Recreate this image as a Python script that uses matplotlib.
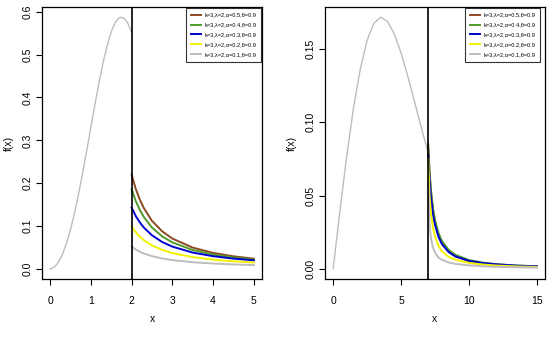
import matplotlib
matplotlib.use("Agg")
from matplotlib import pyplot as plt

plt.rcParams['font.family'] = ['Liberation Sans Narrow', 'Liberation Sans', 'DejaVu Sans']

labels = ['k=3,λ=2,α=0.5,θ=0.9', 'k=3,λ=2,α=0.4,θ=0.9', 'k=3,λ=2,α=0.3,θ=0.9',
          'k=3,λ=2,α=0.2,θ=0.9', 'k=3,λ=2,α=0.1,θ=0.9']
colors = ['#8b4a22', '#4f9a2a', '#0000d0', '#f2f200', '#bdbdbd']

# left panel: body (gray) and tails after x=2
body1_x = [0, 0.1, 0.2, 0.3, 0.4, 0.5, 0.6, 0.7, 0.8, 0.9, 1.0, 1.1, 1.2, 1.3, 1.4,
           1.5, 1.6, 1.7, 1.8, 1.9, 2.0]
body1_y = [0, 0.0038, 0.015, 0.0336, 0.0595, 0.0923, 0.1314, 0.176, 0.2251, 0.2773,
           0.3309, 0.3842, 0.435, 0.4814, 0.5214, 0.5535, 0.5753, 0.5864, 0.5861,
           0.5745, 0.5518]
tail1_x = [2.0, 2.1, 2.2, 2.3, 2.5, 2.75, 3.0, 3.5, 4.0, 4.5, 5.0]
tail1_a05 = [0.22, 0.187, 0.162, 0.142, 0.112, 0.0877, 0.0708, 0.0497, 0.0374, 0.0294, 0.0239]
tail1_a04 = [0.186, 0.1587, 0.1377, 0.121, 0.0964, 0.0758, 0.0618, 0.0441, 0.0336, 0.0268, 0.022]
tail1_a03 = [0.143, 0.1237, 0.1087, 0.0965, 0.0784, 0.0628, 0.052, 0.0381, 0.0297, 0.024, 0.0201]
tail1_a02 = [0.099, 0.0857, 0.0754, 0.0671, 0.0548, 0.0443, 0.0369, 0.0275, 0.0217, 0.0178, 0.015]
tail1_a01 = [0.052, 0.0454, 0.0402, 0.0361, 0.0298, 0.0244, 0.0206, 0.0157, 0.0126, 0.0105, 0.009]
cut1 = 2

# right panel: body (gray) and tails after x=7
body2_x = [0, 0.5, 1.0, 1.5, 2.0, 2.5, 3.0, 3.5, 4.0, 4.5, 5.0, 5.5, 6.0, 6.5, 7.0]
body2_y = [0, 0.0396, 0.0769, 0.1097, 0.1363, 0.1558, 0.1674, 0.1715, 0.1687, 0.1602,
           0.1472, 0.1312, 0.1137, 0.096, 0.0789]
tail2_x = [7.0, 7.1, 7.2, 7.35, 7.5, 7.75, 8.0, 8.5, 9.0, 10, 11, 12, 13.5, 15]
tail2_a05 = [0.085, 0.0662, 0.0534, 0.0406, 0.0322, 0.0234, 0.018, 0.0118, 0.0085, 0.0052, 0.0036, 0.0027, 0.0019, 0.0014]
tail2_a04 = [0.082, 0.0649, 0.0531, 0.0412, 0.0332, 0.0246, 0.0192, 0.013, 0.0096, 0.006, 0.0043, 0.0032, 0.0023, 0.0018]
tail2_a03 = [0.078, 0.060, 0.049, 0.037, 0.030, 0.022, 0.017, 0.0115, 0.0085, 0.0055, 0.004, 0.0031, 0.0022, 0.0017]
tail2_a02 = [0.075, 0.050, 0.038, 0.028, 0.022, 0.016, 0.012, 0.0082, 0.0062, 0.0041, 0.003, 0.0023, 0.0017, 0.0013]
tail2_a01 = [0.060, 0.030, 0.021, 0.0145, 0.011, 0.0078, 0.0062, 0.0044, 0.0034, 0.0024, 0.0018, 0.0014, 0.0011, 0.0009]
cut2 = 7

fig = plt.figure(figsize=(5.5, 3.39), dpi=100)
ax1 = fig.add_axes([42/550, 60/339, 220/550, 272/339])
ax2 = fig.add_axes([325/550, 60/339, 220/550, 272/339])

panels = [
    (ax1, body1_x, body1_y, tail1_x, [tail1_a05, tail1_a04, tail1_a03, tail1_a02, tail1_a01], cut1,
     (-0.2, 5.2), (-0.0235, 0.611), [0, 1, 2, 3, 4, 5], [0.0, 0.1, 0.2, 0.3, 0.4, 0.5, 0.6], '{:.1f}', 262),
    (ax2, body2_x, body2_y, tail2_x, [tail2_a05, tail2_a04, tail2_a03, tail2_a02, tail2_a01], cut2,
     (-0.6, 15.6), (-0.0069, 0.1785), [0, 5, 10, 15], [0.0, 0.05, 0.10, 0.15], '{:.2f}', 541),
]

for ax, bx, by, tx, tails, cut, xl, yl, xt, yt, fmt, lg_right in panels:
    ax.plot(bx, by, color='#bdbdbd', lw=1.0)
    handles = []
    for ty, c, lab in zip(tails, colors, labels):
        h, = ax.plot(tx, ty, color=c, lw=1.4, label=lab)
        handles.append(h)
    ax.axvline(cut, color='black', lw=1.2)
    ax.set_xlim(*xl)
    ax.set_ylim(*yl)
    ax.set_xticks(xt)
    ax.set_yticks(yt)
    ax.set_yticklabels([fmt.format(v) for v in yt], rotation=90, va='center')
    ax.tick_params(direction='out', length=4, width=0.8, labelsize=7.5)
    ax.tick_params(axis='x', pad=8)
    ax.tick_params(axis='y', pad=3)
    for s in ax.spines.values():
        s.set_linewidth(0.9)
    ax.set_xlabel('x', fontsize=7.5)
    ax.set_ylabel('f(x)', fontsize=7.5)
    ax.xaxis.set_label_coords(0.5, -0.13)
    ax.yaxis.set_label_coords(-0.13, 0.5)
    x0 = ax.get_position().x0 * 550
    leg = ax.legend(handles=handles, loc='upper right', fontsize=4.1,
                    bbox_to_anchor=((lg_right - x0) / 220, 1.0), borderaxespad=0.1,
                    frameon=True, fancybox=False, handlelength=1.8, labelspacing=0.85,
                    borderpad=0.9, handletextpad=0.6)
    leg.get_frame().set_edgecolor('black')
    leg.get_frame().set_linewidth(0.8)

fig.savefig('out.png', dpi=100)
